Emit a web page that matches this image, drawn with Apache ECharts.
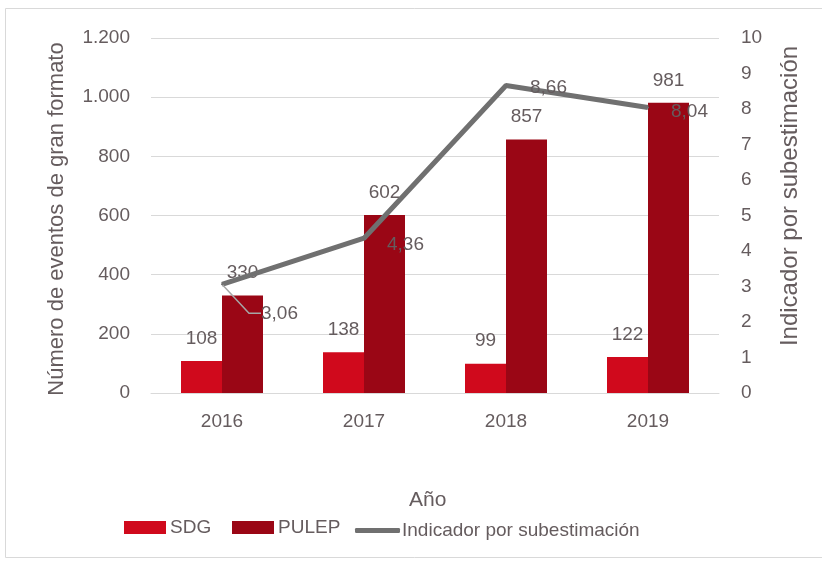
<!DOCTYPE html>
<html>
<head>
<meta charset="utf-8">
<script src="https://cdn.jsdelivr.net/npm/echarts@6/dist/echarts.min.js"></script>
<style>
  html, body { margin: 0; padding: 0; background: #fff; }
  #chart { width: 822px; height: 561px; }
</style>
</head>
<body>
<div id="chart"></div>
<script>
const years = ['2016', '2017', '2018', '2019']
const sdg = [108, 138, 99, 122]
const pulep = [330, 602, 857, 981]
const indicador = [3.06, 4.36, 8.66, 8.04]

const FONT = "'Liberation Sans', Arial, sans-serif"
const TXT = '#655c5e'
const GRID = '#d9d9d9'
const FS = 19

const chart = echarts.init(document.getElementById('chart'))

// desplazamiento manual de las etiquetas del indicador, como en el original
const lineLabelShift = [
  { dx: 16, dy: 29 },
  { dx: 0, dy: 7 },
  { dx: 1, dy: 2 },
  { dx: 0, dy: 4 }
]

// solo la primera etiqueta lleva línea guía
const lineData = indicador.map((v, i) => ({
  value: v,
  labelLine: { show: i === 0 }
}))

const option = {
  textStyle: { fontFamily: FONT, color: TXT },
  animation: false,
  title: {
    text: 'Año',
    left: 404,
    top: 485,
    textStyle: { fontFamily: FONT, color: TXT, fontSize: 21, fontWeight: 'normal' }
  },
  legend: [
    {
      left: 119, top: 513,
      itemWidth: 42, itemHeight: 13, itemGap: 4,
      textStyle: { fontFamily: FONT, color: TXT, fontSize: FS, padding: [0, 0, 0, -1] },
      data: [{ name: 'SDG', icon: 'rect' }]
    },
    {
      left: 227, top: 513,
      itemWidth: 42, itemHeight: 13,
      textStyle: { fontFamily: FONT, color: TXT, fontSize: FS, padding: [0, 0, 0, -1] },
      data: [{ name: 'PULEP', icon: 'rect' }]
    },
    {
      left: 350, top: 516,
      itemWidth: 45, itemHeight: 5,
      textStyle: { fontFamily: FONT, color: TXT, fontSize: FS, padding: [0, 0, 0, -3] },
      data: [{ name: 'Indicador por subestimación', icon: 'roundRect' }]
    }
  ],
  graphic: [
    {
      type: 'rect',
      shape: { x: 5.5, y: 8.5, width: 830, height: 549 },
      style: { fill: 'none', stroke: GRID, lineWidth: 1 },
      silent: true
    },
    {
      type: 'text',
      x: 57, y: 219,
      rotation: Math.PI / 2,
      style: {
        text: 'Número de eventos de gran formato',
        fill: TXT, fontSize: 22, fontFamily: FONT,
        align: 'center', verticalAlign: 'middle'
      },
      silent: true
    },
    {
      type: 'text',
      x: 790, y: 196,
      rotation: Math.PI / 2,
      style: {
        text: 'Indicador por subestimación',
        fill: TXT, fontSize: 24, fontFamily: FONT,
        align: 'center', verticalAlign: 'middle'
      },
      silent: true
    }
  ],
  grid: { left: 151, right: 103, top: 38, bottom: 168 },
  xAxis: {
    type: 'category',
    data: years,
    axisTick: { show: false },
    axisLine: { lineStyle: { color: GRID, width: 1 } },
    axisLabel: { color: TXT, fontSize: FS, margin: 19, fontFamily: FONT }
  },
  yAxis: [
    {
      type: 'value',
      min: 0,
      max: 1200,
      interval: 200,
      axisLine: { show: false },
      axisTick: { show: false },
      splitLine: { lineStyle: { color: GRID, width: 1 } },
      axisLabel: {
        color: TXT, fontSize: FS, margin: 21, fontFamily: FONT,
        formatter: v => String(v).replace(/\B(?=(\d{3})+(?!\d))/g, '.')
      }
    },
    {
      type: 'value',
      min: 0,
      max: 10,
      interval: 1,
      axisLine: { show: false },
      axisTick: { show: false },
      splitLine: { show: false },
      axisLabel: { color: TXT, fontSize: FS, margin: 22, fontFamily: FONT }
    }
  ],
  series: [
    {
      name: 'SDG',
      type: 'bar',
      data: sdg,
      barWidth: 41,
      barGap: '0%',
      itemStyle: { color: '#d0091c' },
      label: { show: true, position: 'top', distance: 13, color: TXT, fontSize: FS, fontFamily: FONT }
    },
    {
      name: 'PULEP',
      type: 'bar',
      data: pulep,
      barWidth: 41,
      itemStyle: { color: '#9a0615' },
      label: { show: true, position: 'top', distance: 13, color: TXT, fontSize: FS, fontFamily: FONT }
    },
    {
      name: 'Indicador por subestimación',
      type: 'line',
      yAxisIndex: 1,
      data: lineData,
      symbol: 'circle',
      symbolSize: 2,
      showSymbol: true,
      lineStyle: { color: '#707070', width: 5 },
      itemStyle: { color: '#707070' },
      z: 5,
      label: {
        show: true,
        position: 'right',
        distance: 22,
        color: TXT,
        fontSize: FS,
        fontFamily: FONT,
        formatter: p => p.value.toFixed(2).replace('.', ',')
      },
      labelLine: { show: true, length2: 12, lineStyle: { color: '#a6a6a6', width: 1.5 } },
      labelLayout: p => lineLabelShift[p.dataIndex]
    }
  ]
}

chart.setOption(option)
</script>
</body>
</html>
